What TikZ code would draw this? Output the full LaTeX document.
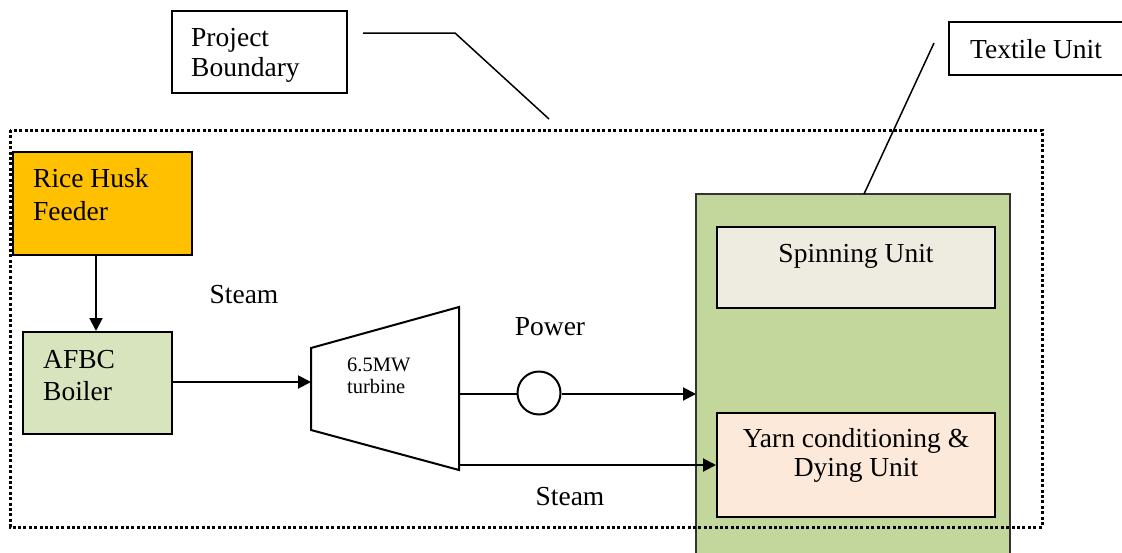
\documentclass[tikz,border=0pt]{standalone}
\usepackage{fontspec}
\setmainfont{Liberation Serif}
\usetikzlibrary{arrows.meta}
\definecolor{husk}{HTML}{FFC000}
\definecolor{boilerg}{HTML}{D7E4BD}
\definecolor{textileg}{HTML}{C3D69B}
\definecolor{spin}{HTML}{EEECE1}
\definecolor{yarn}{HTML}{FDE9D9}
\tikzset{
  box/.style={draw=black, line width=2pt, rectangle, inner sep=0pt},
  txt/.style={font=\fontsize{27.5}{33}\selectfont, inner sep=0pt},
  small/.style={font=\fontsize{20.5}{22}\selectfont, inner sep=0pt},
  conn/.style={line width=2pt},
  arr/.style={line width=2pt, -{Triangle[length=13pt,width=13pt]}},
  boundary/.style={line width=3pt, dash pattern=on 3pt off 2.4pt},
}
\begin{document}
\begin{tikzpicture}[x=1pt,y=-1pt]
\useasboundingbox (0,0) rectangle (1122,552);
% Textile unit (open at the bottom)
\fill[textileg] (696,194) rectangle (1010,560);
\draw[line width=2pt, draw=black!80] (696,560) -- (696,194) -- (1010,194) -- (1010,560);
\coordinate (textileW) at (696,394);
\coordinate (textileTop) at (864,194);
% Boxes
\node[box, fill=husk, minimum width=179pt, minimum height=103pt] (feeder) at (102.5,203.5) {};
\node[txt, align=left, anchor=base west] (feedertxt) at (33,220) {Rice Husk\\Feeder};
\node[box, fill=boilerg, minimum width=149pt, minimum height=102pt] (boiler) at (97.5,383) {};
\node[txt, align=left, anchor=base west] (boilertxt) at (43,400) {AFBC\\[-1pt]Boiler};
\node[box, fill=spin, minimum width=278pt, minimum height=81pt] (spinning) at (856,267.5) {};
\node[txt, anchor=base] (spintxt) at (856,262) {Spinning Unit};
\node[box, fill=yarn, minimum width=278pt, minimum height=104pt] (yarn) at (856,465) {};
\node[txt, align=center, anchor=base] (yarntxt) at (856,476) {Yarn conditioning \&\\[-4pt]Dying Unit};
% Turbine
\coordinate (tLT) at (311,348);
\coordinate (tLB) at (311,430);
\coordinate (tRT) at (459,307);
\coordinate (tRB) at (459,470);
\draw[line width=2pt, fill=white] (tLT) -- (tRT) -- (tRB) -- (tLB) -- cycle;
\coordinate (tIn) at (311,382);
\coordinate (tPow) at (459,394);
\coordinate (tSteam) at (459,465);
\node[small, align=left, anchor=base west] (turb) at (347,393) {6.5MW\\turbine};
% Generator
\node[draw=black, line width=2pt, circle, minimum size=43pt, inner sep=0pt, fill=white] (gen) at (539,393) {};
% Connectors
\coordinate (ax) at (96,0);
\draw[arr] (feeder.south -| ax) -- (boiler.north -| ax);
\draw[arr] (boiler.east |- tIn) -- (tIn);
\draw[conn] (tPow) -- (gen.west |- tPow);
\draw[arr] (gen.east |- tPow) -- (textileW);
\draw[arr] (tSteam) -- (yarn.west |- tSteam);
% Labels
\node[txt, anchor=base] (steam1) at (244,303) {Steam};
\node[txt, anchor=base] (power) at (550,335) {Power};
\node[txt, anchor=base] (steam2) at (570,505) {Steam};
% Project boundary callout
\node[box, fill=white, minimum width=175pt, minimum height=82pt] (pb) at (259.5,52) {};
\node[txt, align=left, anchor=base west] (pbtxt) at (191,76) {Project\\[-3pt]Boundary};
\coordinate (pbS) at (363,33);
\coordinate (pbB) at (455,33);
\coordinate (pbE) at (549,119);
\draw[line width=1.5pt] (pbS) -- (pbB) -- (pbE);
% Textile unit callout
\fill[white] (949,22) rectangle (1130,75);
\draw[line width=2pt] (1130,22) -- (949,22) -- (949,75) -- (1130,75);
\node[txt, anchor=base west] (tutxt) at (970,58) {Textile Unit};
\coordinate (tuS) at (934,43);
\draw[line width=1.5pt] (tuS) -- (textileTop);
% Dotted project boundary
\draw[boundary] (10,130) rectangle (1042,527);
\end{tikzpicture}
\end{document}
